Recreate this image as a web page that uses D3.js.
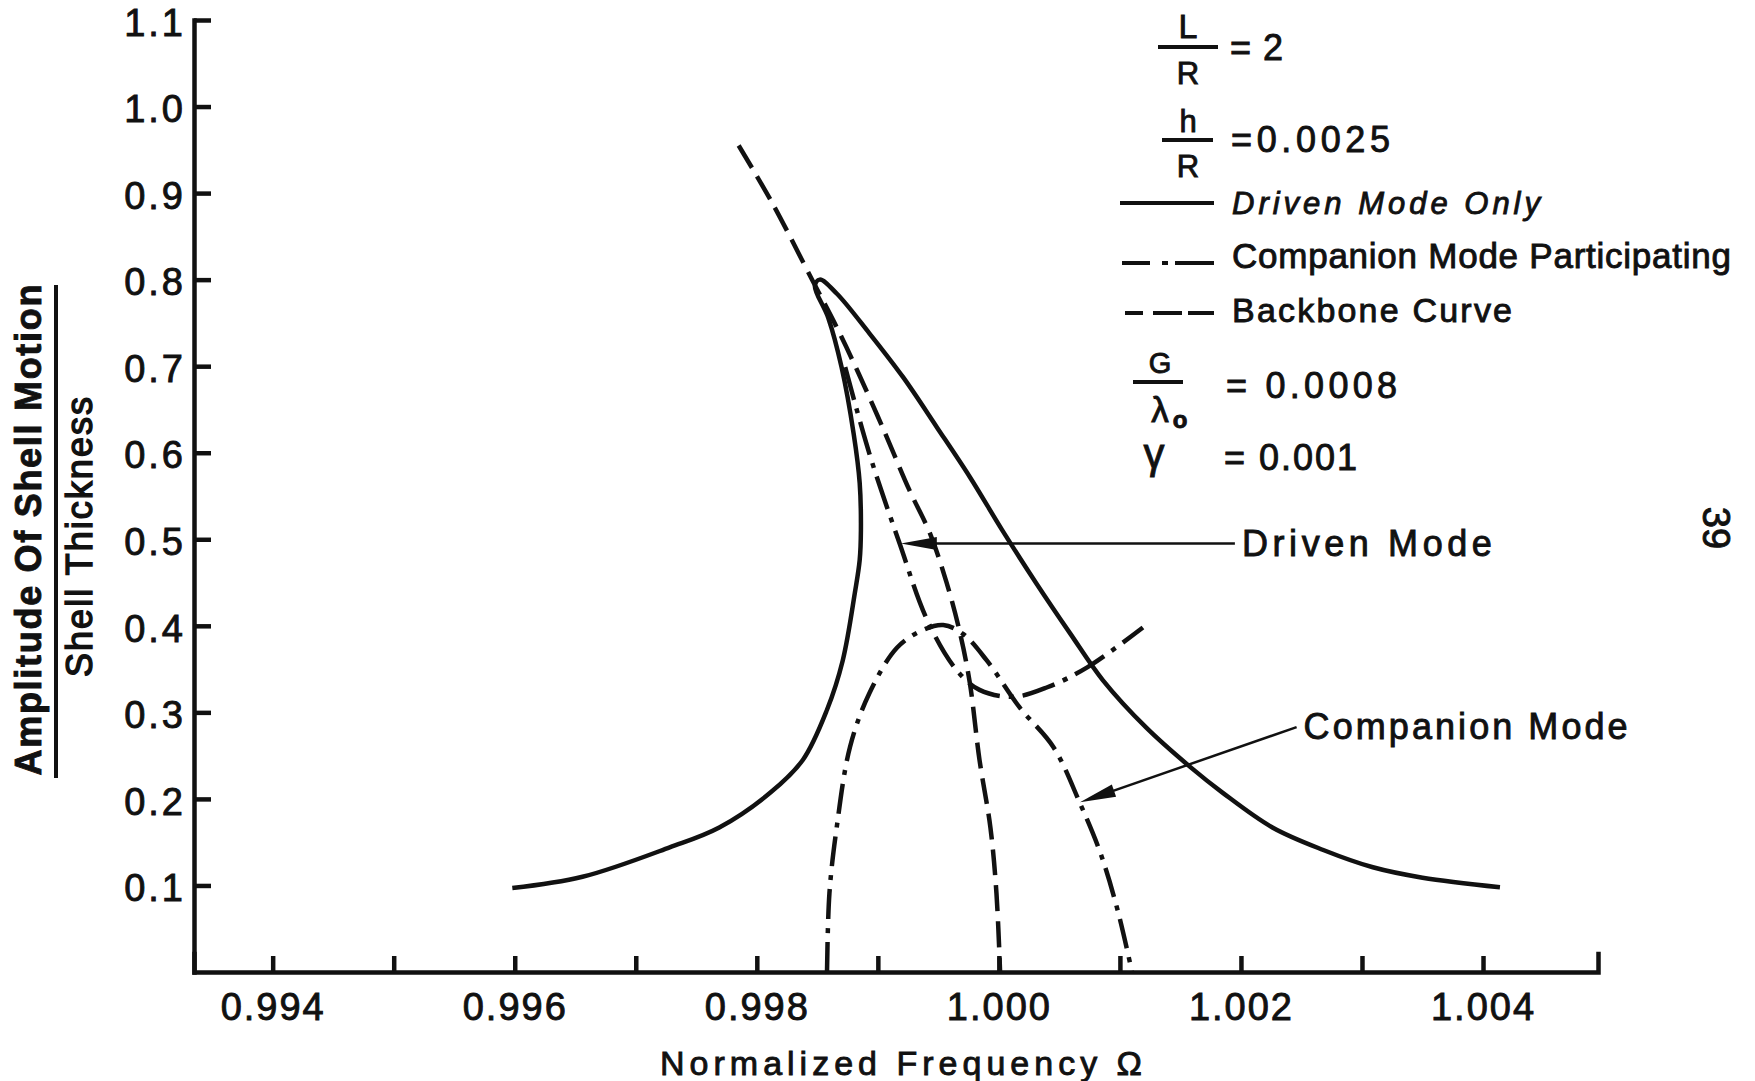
<!DOCTYPE html>
<html>
<head>
<meta charset="utf-8">
<script src="https://d3js.org/d3.v7.min.js"></script>
<style>
body { margin: 0; background: #fff; }
text { font-family: "Liberation Sans", Arial, sans-serif; fill: #111; stroke: #111; stroke-width: 0.9px; }
.curve { fill: none; stroke: #111; stroke-width: 4.5; }
.axis path, .axis line { stroke: #111; stroke-width: 4.5; }
</style>
</head>
<body>
<svg width="1755" height="1081"></svg>
<script>
// values: normalized frequency (Omega) and amplitude / shell thickness
var drivenOnlyW = [0.99598, 0.99656, 0.99728, 0.99769, 0.99811, 0.99838, 0.99858, 0.99871, 0.99881, 0.99885,
                   0.99886, 0.99885, 0.99880, 0.99870, 0.99859, 0.99848, 0.99852, 0.99866, 0.99893, 0.99921,
                   0.99949, 0.99976, 1.00003, 1.00031, 1.00059, 1.00086, 1.00122, 1.00158, 1.00185, 1.00226,
                   1.00268, 1.00309, 1.00350, 1.00414];
var drivenOnlyA = [0.097, 0.110, 0.144, 0.167, 0.207, 0.245, 0.303, 0.360, 0.438, 0.476,
                   0.510, 0.565, 0.622, 0.699, 0.756, 0.793, 0.800, 0.784, 0.738, 0.687,
                   0.629, 0.572, 0.510, 0.449, 0.391, 0.337, 0.282, 0.237, 0.207, 0.167,
                   0.141, 0.121, 0.109, 0.098];

// driven mode with companion mode participating
var participW = [0.99873, 0.99893, 0.99918, 0.99941, 0.99965, 0.99984, 1.00012, 1.00040, 1.00073, 1.00119];
var participA = [0.699, 0.599, 0.495, 0.406, 0.349, 0.326, 0.318, 0.329, 0.352, 0.398];

// companion mode
var companionW = [0.99858, 0.99860, 0.99866, 0.99877, 0.99893, 0.99916, 0.99937, 0.99954, 0.99970, 0.99990,
                  1.00017, 1.00045, 1.00067, 1.00084, 1.00098, 1.00110];
var companionA = [0.000, 0.091, 0.167, 0.260, 0.322, 0.375, 0.395, 0.401, 0.391, 0.360,
                  0.306, 0.260, 0.195, 0.137, 0.072, 0.000];

// backbone curve
var backboneW = [0.99785, 0.99813, 0.99846, 0.99866, 0.99883, 0.99904, 0.99926, 0.99943, 0.99957, 0.99968,
                 0.99976, 0.99984, 0.99993, 0.99998, 1.00001];
var backboneA = [0.955, 0.888, 0.799, 0.745, 0.695, 0.629, 0.557, 0.507, 0.449, 0.391,
                 0.334, 0.245, 0.167, 0.091, 0.000];

var xTicks = [0.994, 0.995, 0.996, 0.997, 0.998, 0.999, 1.000, 1.001, 1.002, 1.003, 1.004];
var xTickLabels = ["0.994", "", "0.996", "", "0.998", "", "1.000", "", "1.002", "", "1.004"];
var yTicks = [0.1, 0.2, 0.3, 0.4, 0.5, 0.6, 0.7, 0.8, 0.9, 1.0, 1.1];
var yTickLabels = ["0.1", "0.2", "0.3", "0.4", "0.5", "0.6", "0.7", "0.8", "0.9", "1.0", "1.1"];

// arrow annotations
var noteLabels = ["Driven Mode", "Companion Mode"];
var noteTipW = [0.99919, 1.00067], noteTipA = [0.495, 0.196];
var noteTailW = [1.00195, 1.00246], noteTailA = [0.495, 0.283];

var svg = d3.select("svg");
svg.append("rect").attr("width", 1755).attr("height", 1081).attr("fill", "#fff");

var x = d3.scaleLinear().domain([0.99335, 1.00495]).range([194, 1598]);
var y = d3.scaleLinear().domain([0, 1.1]).range([972, 20]);

// axes
var gx = svg.append("g").attr("class", "axis")
    .attr("transform", "translate(0," + y(0) + ")")
    .call(d3.axisBottom(x).tickValues(xTicks)
        .tickFormat(function(d, i) { return xTickLabels[i]; })
        .tickSizeInner(-16).tickSizeOuter(-18).tickPadding(21));
gx.selectAll("text").attr("font-size", 38).attr("letter-spacing", 2);

var gy = svg.append("g").attr("class", "axis")
    .attr("transform", "translate(" + x.range()[0] + ",0)")
    .call(d3.axisLeft(y).tickValues(yTicks)
        .tickFormat(function(d, i) { return yTickLabels[i]; })
        .tickSizeInner(-17).tickSizeOuter(0).tickPadding(8));
gy.selectAll("text").attr("font-size", 38).attr("dy", "0.4em").attr("letter-spacing", 3);
svg.selectAll(".axis path").attr("stroke-linecap", "square");

// curves
var line = d3.line()
    .x(function(d) { return x(d[0]); })
    .y(function(d) { return y(d[1]); })
    .curve(d3.curveCatmullRom.alpha(0.5));

var series = [
  { w: drivenOnlyW, a: drivenOnlyA, dash: null },
  { w: participW, a: participA, dash: "34,9,5,9" },
  { w: companionW, a: companionA, dash: "30,9,5,9" },
  { w: backboneW, a: backboneA, dash: "26,10" }
];
svg.selectAll("path.curve").data(series).enter().append("path")
    .attr("class", "curve")
    .attr("d", function(s) { return line(d3.zip(s.w, s.a)); })
    .attr("stroke-dasharray", function(s) { return s.dash; });

// arrows with labels
noteLabels.forEach(function(lab, i) {
  var tx = x(noteTipW[i]), ty = y(noteTipA[i]);
  var sx = x(noteTailW[i]), sy = y(noteTailA[i]);
  var dx = sx - tx, dy = sy - ty, len = Math.sqrt(dx * dx + dy * dy);
  var ux = dx / len, uy = dy / len, hl = 36, hw = 6.5;
  svg.append("line").attr("x1", sx).attr("y1", sy).attr("x2", tx + ux * 10).attr("y2", ty + uy * 10)
      .attr("stroke", "#111").attr("stroke-width", 2.5);
  svg.append("path")
      .attr("d", "M" + tx + "," + ty +
                 "L" + (tx + ux * hl - uy * hw) + "," + (ty + uy * hl + ux * hw) +
                 "L" + (tx + ux * hl + uy * hw) + "," + (ty + uy * hl - ux * hw) + "Z")
      .attr("fill", "#111");
  svg.append("text").attr("x", sx + 7).attr("y", sy + 12)
      .attr("font-size", 36).attr("textLength", i === 0 ? 250 : 324).attr("lengthAdjust", "spacing")
      .text(lab);
});

// axis titles
svg.append("text").attr("transform", "translate(41,530) rotate(-90)")
    .attr("text-anchor", "middle").attr("font-size", 36).attr("font-weight", "bold")
    .attr("textLength", 491).attr("lengthAdjust", "spacing")
    .text("Amplitude Of Shell Motion");
svg.append("line").attr("x1", 56).attr("x2", 56).attr("y1", 285).attr("y2", 778)
    .attr("stroke", "#111").attr("stroke-width", 4);
svg.append("text").attr("transform", "translate(92,537) rotate(-90)")
    .attr("text-anchor", "middle").attr("font-size", 36).style("stroke-width", "1.4px")
    .attr("textLength", 280).attr("lengthAdjust", "spacing")
    .text("Shell Thickness");
svg.append("text").attr("x", 660).attr("y", 1075).attr("font-size", 34)
    .attr("textLength", 482).attr("lengthAdjust", "spacing")
    .text("Normalized Frequency \u03A9");

// parameters and legend
function fraction(cx, numY, barY, denY, bx0, bx1, num, den, numSize, denSize) {
  svg.append("text").attr("x", cx).attr("y", numY).attr("text-anchor", "middle").attr("font-size", numSize).text(num);
  svg.append("line").attr("x1", bx0).attr("x2", bx1).attr("y1", barY).attr("y2", barY)
      .attr("stroke", "#111").attr("stroke-width", 4);
  svg.append("text").attr("x", cx).attr("y", denY).attr("text-anchor", "middle").attr("font-size", denSize).text(den);
}
function value(x0, base, txt, len) {
  svg.append("text").attr("x", x0).attr("y", base).attr("font-size", 36)
      .attr("textLength", len).attr("lengthAdjust", "spacing").text(txt);
}
fraction(1188, 38, 47, 84, 1158, 1218, "L", "R", 34, 31);
value(1230, 60, "= 2", 53);
fraction(1188, 132, 140, 177, 1162, 1213, "h", "R", 31, 31);
value(1231, 152, "=0.0025", 159);
fraction(1160, 373, 382, 422, 1133, 1183, "G", "\u03BB", 29, 35);
svg.append("text").attr("x", 1180).attr("y", 428).attr("text-anchor", "middle")
    .attr("font-size", 24).attr("font-weight", "bold").text("o");
value(1226, 398, "= 0.0008", 171);
svg.append("text").attr("x", 1154).attr("y", 468).attr("text-anchor", "middle")
    .attr("font-size", 42).text("\u03B3");
value(1224, 470, "= 0.001", 133);

var legendLabels = ["Driven Mode Only", "Companion Mode Participating", "Backbone Curve"];
var legendDash = [null, "28,12,6,7,40", "18,10,29,6,26"];
var legendX0 = [1120, 1122, 1125], legendY = [203, 263, 313];
var legendBase = [214, 268, 322], legendSize = [31, 35, 34], legendLen = [308, 499, 280];
legendLabels.forEach(function(lab, i) {
  svg.append("line").attr("x1", legendX0[i]).attr("x2", 1214).attr("y1", legendY[i]).attr("y2", legendY[i])
      .attr("stroke", "#111").attr("stroke-width", 4).attr("stroke-dasharray", legendDash[i]);
  svg.append("text").attr("x", 1232).attr("y", legendBase[i]).attr("font-size", legendSize[i])
      .attr("font-style", i === 0 ? "italic" : "normal")
      .attr("textLength", legendLen[i]).attr("lengthAdjust", "spacing").text(lab);
});

// page number
svg.append("text").attr("transform", "translate(1716,528) rotate(90)")
    .attr("text-anchor", "middle").attr("dominant-baseline", "central")
    .attr("font-size", 38).text("39");
</script>
</body>
</html>
